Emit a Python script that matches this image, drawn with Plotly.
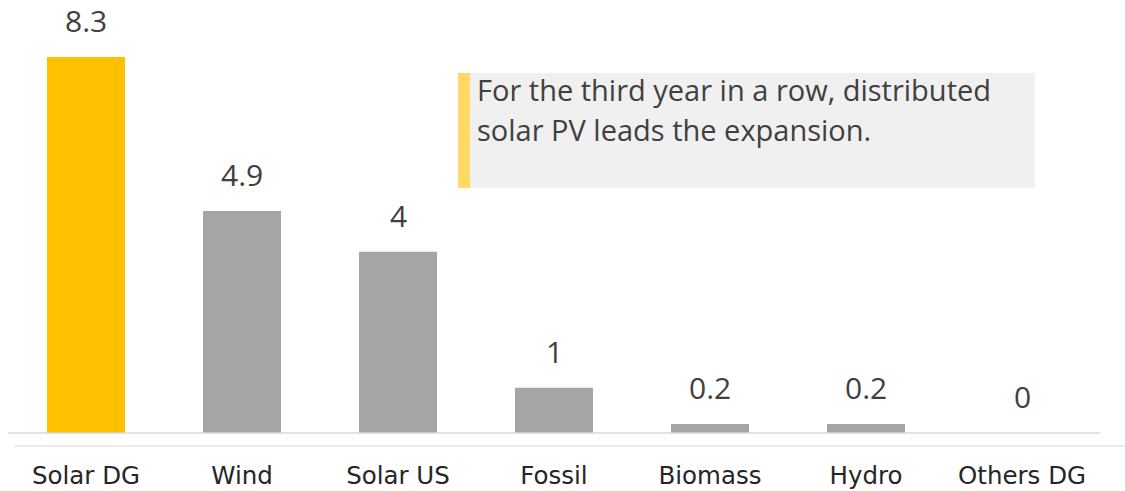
import plotly.graph_objects as go

categories = ["Solar DG", "Wind", "Solar US", "Fossil", "Biomass", "Hydro", "Others DG"]
values = [8.3, 4.9, 4.0, 1.0, 0.2, 0.2, 0.0]
value_labels = ["8.3", "4.9", "4", "1", "0.2", "0.2", "0"]
bar_colors = ["#FFC000", "#A5A5A5", "#A5A5A5", "#A5A5A5", "#A5A5A5", "#A5A5A5", "#A5A5A5"]
note_lines = ["For the third year in a row, distributed", "solar PV leads the expansion."]

W, H = 1125, 491
L, R, T, B = 8, 25, 0, 58
pw, ph = W - L - R, H - T - B


def px(x):
    return (x - L) / pw


def py(y):
    return (H - B - y) / ph


fig = go.Figure(
    go.Bar(
        x=categories,
        y=values,
        marker=dict(color=bar_colors, line=dict(width=0)),
        width=0.5,
        hoverinfo="skip",
    )
)

for cat, val, lab in zip(categories, values, value_labels):
    fig.add_annotation(
        x=cat, y=val, text=lab, showarrow=False,
        yanchor="bottom", yshift=14,
        font=dict(family="Open Sans", size=30, color="#404040"),
    )

# callout box
fig.add_shape(type="rect", xref="paper", yref="paper",
              x0=px(470), x1=px(1035), y0=py(188), y1=py(73),
              fillcolor="#F0F0F0", line=dict(width=0), layer="below")
fig.add_shape(type="rect", xref="paper", yref="paper",
              x0=px(458), x1=px(470), y0=py(188), y1=py(73),
              fillcolor="#FFD966", line=dict(width=0), layer="below")
for i, line in enumerate(note_lines):
    fig.add_annotation(
        xref="paper", yref="paper", x=px(475), y=py(89 + 40 * i),
        xanchor="left", yanchor="middle", showarrow=False, align="left",
        text=line, font=dict(family="Open Sans", size=29, color="#404040"),
    )

# baseline and lower rule
fig.add_shape(type="line", xref="paper", yref="paper",
              x0=0, x1=1, y0=0, y1=0, line=dict(color="#D9D9D9", width=1.5))
fig.add_shape(type="line", xref="paper", yref="paper",
              x0=px(14), x1=px(1125), y0=py(446), y1=py(446),
              line=dict(color="#E3E3E3", width=1.5))

fig.update_layout(
    width=W, height=H,
    margin=dict(l=L, r=R, t=T, b=B),
    paper_bgcolor="white", plot_bgcolor="white",
    showlegend=False,
    bargap=0.5,
    xaxis=dict(
        showgrid=False, showline=False, zeroline=False, ticks="",
        tickfont=dict(family="DejaVu Sans", size=24.5, color="#262626"),
        ticklabelstandoff=25,
    ),
    yaxis=dict(
        range=[0, (H - B - T) / 45.3], visible=False, showgrid=False, zeroline=False,
    ),
)

fig.write_html(
    "out.html",
    config={"displayModeBar": False},
    post_script="document.body.style.margin='0';",
)
